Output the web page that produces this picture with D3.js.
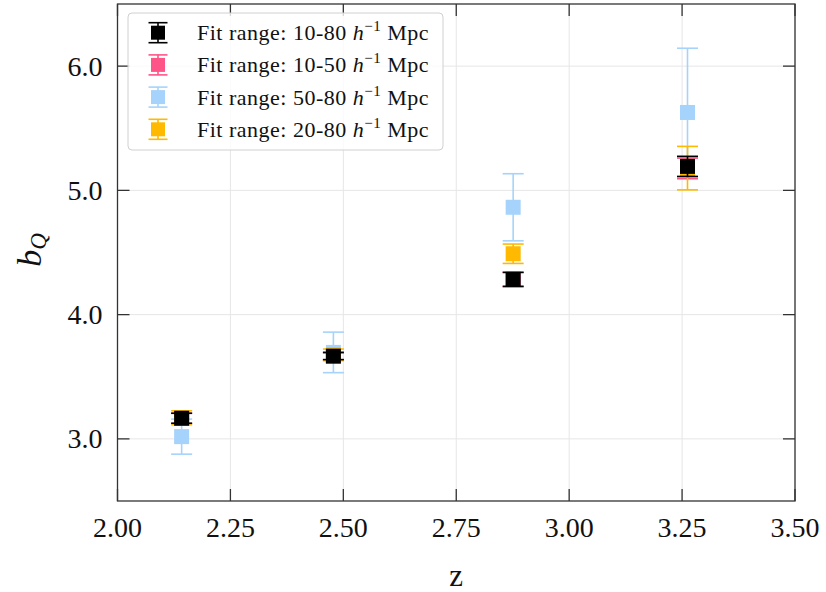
<!DOCTYPE html>
<html>
<head>
<meta charset="utf-8">
<script src="https://cdn.jsdelivr.net/npm/d3@7"></script>
<style>
    body { margin: 0; background: #fff; }
    text { font-family: "Liberation Serif", "DejaVu Serif", serif; fill: #111; }
</style>
</head>
<body>
<svg id="mysvg" width="826" height="592"></svg>
<script>
// redshift bins
let zBins = [2.142, 2.478, 2.876, 3.262];

// bias per fit range and its error
let bias_10_80 = [3.166, 3.666, 4.284, 5.193];
let err_10_80 = [0.040, 0.028, 0.056, 0.081];
let bias_10_50 = [3.165, 3.668, 4.282, 5.177];
let err_10_50 = [0.042, 0.032, 0.058, 0.083];
let bias_50_80 = [3.018, 3.696, 4.864, 5.627];
let err_50_80 = [0.141, 0.163, 0.270, 0.517];
let bias_20_80 = [3.170, 3.676, 4.490, 5.179];
let err_20_80 = [0.056, 0.047, 0.078, 0.175];

let rangeLabels = ["10-80", "10-50", "50-80", "20-80"];
let xTicks = [2.00, 2.25, 2.50, 2.75, 3.00, 3.25, 3.50];
let yTicks = [3.0, 4.0, 5.0, 6.0];

let series = [
    { label: rangeLabels[0], color: "#000000", bias: bias_10_80, err: err_10_80 },
    { label: rangeLabels[1], color: "#ff5487", bias: bias_10_50, err: err_10_50 },
    { label: rangeLabels[2], color: "#a6d3fb", bias: bias_50_80, err: err_50_80 },
    { label: rangeLabels[3], color: "#ffb900", bias: bias_20_80, err: err_20_80 }
];
// drawing order, black ends on top
let drawOrder = [2, 1, 3, 0];

let svg = d3.select("#mysvg");

let pLeft = 117.5, pRight = 795, pTop = 4, pBottom = 501;

let xScale = d3.scaleLinear().domain([2.0, 3.5]).range([pLeft, pRight]);
let yScale = d3.scaleLinear().domain([2.5, 6.5]).range([pBottom, pTop]);

// grid
svg.append("g").selectAll("line").data(xTicks).enter().append("line")
    .attr("x1", d => xScale(d)).attr("x2", d => xScale(d))
    .attr("y1", pTop).attr("y2", pBottom)
    .style("stroke", "#e6e6e6").style("stroke-width", 1);
svg.append("g").selectAll("line").data(yTicks).enter().append("line")
    .attr("x1", pLeft).attr("x2", pRight)
    .attr("y1", d => yScale(d)).attr("y2", d => yScale(d))
    .style("stroke", "#e6e6e6").style("stroke-width", 1);

// data: error bars + square markers
let half = 7.5, cap = 10.5;
drawOrder.forEach(function (k) {
    let s = series[k];
    let g = svg.append("g");
    let pts = zBins.map(function (z, i) { return { z: z, b: s.bias[i], e: s.err[i] }; });

    g.selectAll(".eb").data(pts).enter().append("line")
        .attr("x1", d => xScale(d.z)).attr("x2", d => xScale(d.z))
        .attr("y1", d => yScale(d.b - d.e)).attr("y2", d => yScale(d.b + d.e))
        .style("stroke", s.color).style("stroke-width", 1.6);
    [-1, 1].forEach(function (sign) {
        g.selectAll(".cap").data(pts).enter().append("line")
            .attr("x1", d => xScale(d.z) - cap).attr("x2", d => xScale(d.z) + cap)
            .attr("y1", d => yScale(d.b + sign * d.e)).attr("y2", d => yScale(d.b + sign * d.e))
            .style("stroke", s.color).style("stroke-width", 1.6);
    });
    g.selectAll("rect").data(pts).enter().append("rect")
        .attr("x", d => xScale(d.z) - half).attr("y", d => yScale(d.b) - half)
        .attr("width", 2 * half).attr("height", 2 * half)
        .style("fill", s.color);
});

// frame
svg.append("rect")
    .attr("x", pLeft).attr("y", pTop)
    .attr("width", pRight - pLeft).attr("height", pBottom - pTop)
    .style("fill", "none").style("stroke", "#333").style("stroke-width", 1.3);

// inward ticks on all four sides
let tl = 12;
let tg = svg.append("g").style("stroke", "#333").style("stroke-width", 1.3);
xTicks.forEach(function (t) {
    tg.append("line").attr("x1", xScale(t)).attr("x2", xScale(t)).attr("y1", pBottom).attr("y2", pBottom - tl);
    tg.append("line").attr("x1", xScale(t)).attr("x2", xScale(t)).attr("y1", pTop).attr("y2", pTop + tl);
});
yTicks.forEach(function (t) {
    tg.append("line").attr("x1", pLeft).attr("x2", pLeft + tl).attr("y1", yScale(t)).attr("y2", yScale(t));
    tg.append("line").attr("x1", pRight).attr("x2", pRight - tl).attr("y1", yScale(t)).attr("y2", yScale(t));
});

// tick labels
svg.append("g").selectAll("text").data(xTicks).enter().append("text")
    .attr("x", d => xScale(d)).attr("y", pBottom + 36)
    .attr("text-anchor", "middle").attr("font-size", "28px")
    .text(d => d.toFixed(2));
svg.append("g").selectAll("text").data(yTicks).enter().append("text")
    .attr("x", pLeft - 15).attr("y", d => yScale(d) + 9.5)
    .attr("text-anchor", "end").attr("font-size", "28px")
    .text(d => d.toFixed(1));

// axis titles
svg.append("text")
    .attr("x", (pLeft + pRight) / 2).attr("y", 586)
    .attr("text-anchor", "middle").attr("font-size", "31px")
    .text("z");
let yl = svg.append("text")
    .attr("transform", "translate(41,250) rotate(-90)")
    .attr("text-anchor", "middle").attr("font-size", "34px");
yl.append("tspan").style("font-style", "italic").text("b");
yl.append("tspan").style("font-style", "italic").attr("font-size", "23px").attr("dy", 5).text("Q");

// legend
let lg = svg.append("g");
lg.append("rect")
    .attr("x", 128).attr("y", 13).attr("width", 315).attr("height", 137)
    .attr("rx", 4)
    .style("fill", "#fff").style("fill-opacity", 0.8)
    .style("stroke", "#d0d0d0").style("stroke-width", 1);

series.forEach(function (s, i) {
    let cy = 32.7 + i * 32.2, cx = 158;
    lg.append("line").attr("x1", cx).attr("x2", cx).attr("y1", cy - 10).attr("y2", cy + 10)
        .style("stroke", s.color).style("stroke-width", 1.6);
    [-10, 10].forEach(function (o) {
        lg.append("line").attr("x1", cx - 9.5).attr("x2", cx + 9.5).attr("y1", cy + o).attr("y2", cy + o)
            .style("stroke", s.color).style("stroke-width", 1.6);
    });
    lg.append("rect").attr("x", cx - 7).attr("y", cy - 7).attr("width", 14).attr("height", 14)
        .style("fill", s.color);

    let t = lg.append("text").attr("x", 197).attr("y", cy + 7.5)
        .attr("font-size", "22px").style("letter-spacing", "0.5px");
    t.append("tspan").text("Fit range: " + s.label + " ");
    t.append("tspan").style("font-style", "italic").text("h");
    t.append("tspan").attr("font-size", "15px").attr("dy", -9).text("\u22121");
    t.append("tspan").attr("dy", 9).text(" Mpc");
});
</script>
</body>
</html>
